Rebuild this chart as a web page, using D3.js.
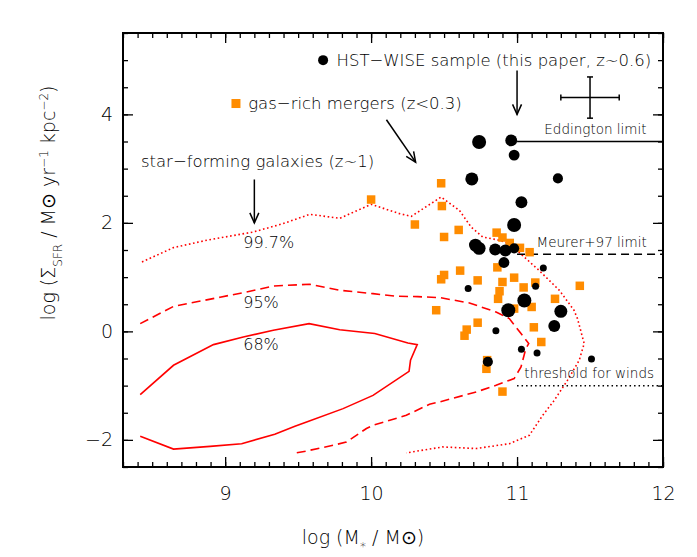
<!DOCTYPE html>
<html>
<head>
<meta charset="utf-8">
<script src="https://cdn.jsdelivr.net/npm/d3@7"></script>
<style>
  body { margin: 0; background: #fff; }
  text { font-family: "DejaVu Sans", sans-serif; font-weight: 200; fill: #000; }
</style>
</head>
<body>
<svg id="chart" width="697" height="557"></svg>
<script>
// ---- data ----
const xTicks = [9, 10, 11, 12];
const yTicks = [-2, 0, 2, 4];

// HST-WISE sample: log M*, log Sigma_SFR, marker size class (1 small .. 3 big)
const hstMass  = [10.74, 10.96, 10.98, 10.69, 11.28, 11.03, 10.98, 10.715, 10.74, 10.85, 10.92, 10.98, 10.91,
                  11.18, 10.665, 11.127, 11.05, 10.94, 11.30, 11.255, 10.855, 11.03, 11.137, 11.51, 10.80];
const hstSigma = [3.49, 3.52, 3.25, 2.81, 2.82, 2.38, 1.96, 1.59, 1.53, 1.51, 1.49, 1.53, 1.27,
                  1.17, 0.79, 0.83, 0.57, 0.39, 0.37, 0.10, 0.01, -0.33, -0.40, -0.51, -0.56];
const hstSize  = [3, 2.4, 2.1, 2.7, 1.9, 2.4, 3, 2.7, 2.7, 2.4, 2.4, 1.9, 2.1,
                  1, 1, 1, 3, 3, 2.7, 2.4, 1, 1, 1, 1, 1.9];

// gas-rich mergers (z<0.3)
const mergerMass  = [10.48, 10.485, 10.30, 10.50, 10.60, 10.86, 10.90, 10.95, 11.02, 11.086, 10.865, 10.61,
                     10.50, 10.48, 10.73, 10.90, 10.98, 11.045, 11.125, 11.43, 10.88, 10.87, 11.26, 11.10,
                     10.446, 10.98, 10.73, 11.115, 10.655, 10.64, 11.166, 10.795, 10.79, 10.90, 10.0];
const mergerSigma = [2.73, 2.31, 1.97, 1.74, 1.87, 1.82, 1.73, 1.63, 1.54, 1.46, 1.18, 1.12,
                     1.04, 0.96, 0.94, 0.91, 0.99, 0.81, 0.90, 0.84, 0.74, 0.60, 0.60, 0.45,
                     0.39, 0.42, 0.16, 0.075, 0.033, -0.08, -0.196, -0.53, -0.69, -1.11, 2.43];

// star-forming galaxy contours (z~1)
const c68Mass  = [8.418, 8.646, 8.92, 9.124, 9.33, 9.575, 9.785, 10.025, 10.252, 10.316, 10.27, 10.26, 10.013,
                  9.808, 9.558, 9.478, 9.34, 9.113, 8.897, 8.646, 8.418];
const c68Sigma = [-1.166, -0.625, -0.244, -0.104, 0.02, 0.143, 0.03, -0.04, -0.214, -0.244, -0.533, -0.736, -1.18,
                  -1.424, -1.67, -1.75, -1.897, -2.07, -2.12, -2.17, -1.934];

const c95Mass  = [8.418, 8.646, 8.965, 9.147, 9.33, 9.58, 9.785, 10.013, 10.173, 10.32, 10.469, 10.674, 10.856,
                  10.947, 11.027, 11.08, 11.06, 11.027, 10.98, 10.856, 10.72, 10.469, 10.40, 10.241, 10.013,
                  9.968, 9.83, 9.74, 9.558, 9.462];
const c95Sigma = [0.143, 0.46, 0.63, 0.726, 0.836, 0.868, 0.757, 0.696, 0.647, 0.64, 0.623, 0.523, 0.357,
                  0.235, -0.04, -0.225, -0.318, -0.657, -0.87, -0.994, -1.117, -1.3, -1.344, -1.547, -1.73,
                  -1.79, -2.04, -2.10, -2.205, -2.253];

const c997Mass  = [8.43, 8.646, 8.874, 9.193, 9.398, 9.58, 9.785, 10.0, 10.195, 10.275, 10.48, 10.605, 10.685,
                   10.765, 10.879, 10.97, 11.016, 11.15, 11.29, 11.39, 11.414, 11.46, 11.426, 11.346, 11.255,
                   11.175, 11.084, 10.947, 10.72, 10.49, 10.241];
const c997Sigma = [1.279, 1.544, 1.68, 1.832, 1.987, 2.158, 2.084, 2.342, 2.17, 2.12, 2.477, 2.23, 1.924,
                   1.74, 1.68, 1.587, 1.45, 1.126, 0.757, 0.39, 0.236, -0.225, -0.533, -0.90, -1.27,
                   -1.55, -1.916, -2.07, -2.16, -2.13, -2.24];

// limits: name, level, starting mass
const limitNames  = ["Eddington limit", "Meurer+97 limit", "threshold for winds"];
const limitLevels = [3.5, 1.42, -1.0];
const limitStart  = [11.0, 11.0, 11.0];

// typical error bar
const errCenter = [11.5, 4.31];
const errSize   = [0.2, 0.38];

// ---- layout ----
const svg = d3.select("#chart");
const margin = {top: 33, right: 34, bottom: 90, left: 123};
const width = +svg.attr("width"), height = +svg.attr("height");

const x = d3.scaleLinear().domain([8.3, 12]).range([margin.left, width - margin.right]);
const y = d3.scaleLinear().domain([-2.5, 5.5]).range([height - margin.bottom, margin.top]);
const r = d3.scaleLinear().domain([1, 3]).range([3.5, 7]);

const red = "#ff0000", orange = "#ff8c00";
const line = d3.line().x(d => x(d[0])).y(d => y(d[1]));

// contours
const contours = [
  {m: c68Mass, s: c68Sigma, dash: null},
  {m: c95Mass, s: c95Sigma, dash: "9,5"},
  {m: c997Mass, s: c997Sigma, dash: "1.6,2.6"}
];
svg.append("g").selectAll("path")
  .data(contours)
  .join("path")
    .attr("d", c => line(d3.zip(c.m, c.s)))
    .attr("fill", "none")
    .attr("stroke", red)
    .attr("stroke-width", 1.6)
    .attr("stroke-dasharray", c => c.dash);

// contour labels
const contourLabels = ["99.7%", "95%", "68%"];
const contourLabelY = [1.65, 0.54, -0.24];
svg.append("g").selectAll("text")
  .data(contourLabels)
  .join("text")
    .attr("x", x(9.124))
    .attr("y", (d, i) => y(contourLabelY[i]))
    .attr("dy", "0.36em")
    .style("font-size", "16px")
    .text(d => d);

// limit lines
const limitDash = [null, "8,5", "1.5,3"];
const limitLabelX = [11.187, 11.134, 11.05];
const limitLabelY = [3.72, 1.636, -0.767];
const limits = svg.append("g");
limits.selectAll("line")
  .data(limitLevels)
  .join("line")
    .attr("x1", (d, i) => x(limitStart[i]))
    .attr("x2", x(12))
    .attr("y1", d => y(d))
    .attr("y2", d => y(d))
    .attr("stroke", "#000")
    .attr("stroke-width", 1.5)
    .attr("stroke-dasharray", (d, i) => limitDash[i]);
limits.selectAll("text")
  .data(limitNames)
  .join("text")
    .attr("x", (d, i) => x(limitLabelX[i]))
    .attr("y", (d, i) => y(limitLabelY[i]))
    .attr("dy", "0.36em")
    .style("font-size", "13.5px")
    .text(d => d);

// mergers
const sq = 8.5;
svg.append("g").selectAll("rect")
  .data(d3.zip(mergerMass, mergerSigma))
  .join("rect")
    .attr("x", d => x(d[0]) - sq / 2)
    .attr("y", d => y(d[1]) - sq / 2)
    .attr("width", sq)
    .attr("height", sq)
    .attr("fill", orange);

// HST sample
svg.append("g").selectAll("circle")
  .data(d3.zip(hstMass, hstSigma, hstSize))
  .join("circle")
    .attr("cx", d => x(d[0]))
    .attr("cy", d => y(d[1]))
    .attr("r", d => r(d[2]))
    .attr("fill", "#000");

// error bar
const eb = svg.append("g").attr("stroke", "#000").attr("stroke-width", 1.5);
const [ex, ey] = errCenter, [dx, dy] = errSize;
eb.append("line").attr("x1", x(ex - dx)).attr("x2", x(ex + dx)).attr("y1", y(ey)).attr("y2", y(ey));
eb.append("line").attr("x1", x(ex)).attr("x2", x(ex)).attr("y1", y(ey - dy)).attr("y2", y(ey + dy));
eb.append("line").attr("x1", x(ex - dx)).attr("x2", x(ex - dx)).attr("y1", y(ey) - 3).attr("y2", y(ey) + 3);
eb.append("line").attr("x1", x(ex + dx)).attr("x2", x(ex + dx)).attr("y1", y(ey) - 3).attr("y2", y(ey) + 3);
eb.append("line").attr("x1", x(ex) - 3).attr("x2", x(ex) + 3).attr("y1", y(ey + dy)).attr("y2", y(ey + dy));
eb.append("line").attr("x1", x(ex) - 3).attr("x2", x(ex) + 3).attr("y1", y(ey - dy)).attr("y2", y(ey - dy));

// arrows
function arrow(x1, y1, x2, y2) {
  const px1 = x(x1), py1 = y(y1), px2 = x(x2), py2 = y(y2);
  const a = Math.atan2(py2 - py1, px2 - px1), L = 11, w = 0.42;
  const g = svg.append("g").attr("stroke", "#000").attr("stroke-width", 1.5).attr("fill", "none");
  g.append("line").attr("x1", px1).attr("y1", py1).attr("x2", px2).attr("y2", py2);
  g.append("path").attr("d",
    `M${px2 - L * Math.cos(a - w)},${py2 - L * Math.sin(a - w)}L${px2},${py2}L${px2 - L * Math.cos(a + w)},${py2 - L * Math.sin(a + w)}`);
}
arrow(11.0, 4.81, 11.0, 4.0);
arrow(10.105, 3.90, 10.305, 3.12);
arrow(9.2, 2.80, 9.2, 2.0);

// legend / annotation text
svg.append("circle").attr("cx", x(9.671)).attr("cy", y(5.0)).attr("r", 5).attr("fill", "#000");
svg.append("text").attr("x", x(9.763)).attr("y", y(5.0)).attr("dy", "0.36em")
  .style("font-size", "16.5px").text("HST\u2212WISE sample (this paper, z~0.6)");
svg.append("rect").attr("x", x(9.074) - 4.5).attr("y", y(4.2) - 4.5).attr("width", 9).attr("height", 9).attr("fill", orange);
svg.append("text").attr("x", x(9.158)).attr("y", y(4.2)).attr("dy", "0.36em")
  .style("font-size", "16.5px").text("gas\u2212rich mergers (z<0.3)");
svg.append("text").attr("x", x(8.423)).attr("y", y(3.14)).attr("dy", "0.36em")
  .style("font-size", "16.5px").text("star\u2212forming galaxies (z~1)");

// ---- axes ----
const minorX = d3.range(83, 121).map(d => d / 10);
const minorY = d3.range(-5, 12).map(d => d / 2);
const axes = svg.append("g");

const xAxis = g => g
  .attr("transform", `translate(0,${height - margin.bottom})`)
  .call(d3.axisBottom(x).tickValues(xTicks).tickSize(-10).tickPadding(20).tickFormat(d3.format("d")))
  .call(g => g.selectAll(".tick text").style("font-size", "19px"));
const yAxis = g => g
  .attr("transform", `translate(${margin.left},0)`)
  .call(d3.axisLeft(y).tickValues(yTicks).tickSize(-10).tickPadding(10).tickFormat(d3.format("d")))
  .call(g => g.selectAll(".tick text").style("font-size", "19px"));

axes.append("g").call(xAxis);
axes.append("g").call(yAxis);
axes.append("g").attr("transform", `translate(0,${height - margin.bottom})`)
  .call(d3.axisBottom(x).tickValues(minorX).tickSize(-5).tickFormat(""));
axes.append("g").attr("transform", `translate(0,${margin.top})`)
  .call(d3.axisTop(x).tickValues(minorX).tickSize(-5).tickFormat(""));
axes.append("g").attr("transform", `translate(0,${margin.top})`)
  .call(d3.axisTop(x).tickValues(xTicks).tickSize(-10).tickFormat(""));
axes.append("g").attr("transform", `translate(${margin.left},0)`)
  .call(d3.axisLeft(y).tickValues(minorY).tickSize(-5).tickFormat(""));
axes.append("g").attr("transform", `translate(${width - margin.right},0)`)
  .call(d3.axisRight(y).tickValues(minorY).tickSize(-5).tickFormat(""));
axes.append("g").attr("transform", `translate(${width - margin.right},0)`)
  .call(d3.axisRight(y).tickValues(yTicks).tickSize(-10).tickFormat(""));
axes.selectAll(".domain").remove();
axes.selectAll("line").attr("stroke", "#000").attr("stroke-width", 1.3);
axes.selectAll(".tick text").attr("fill", "#000")
  .style("font-family", "DejaVu Sans, sans-serif").style("font-weight", 200);

svg.append("rect")
  .attr("x", margin.left).attr("y", margin.top)
  .attr("width", width - margin.left - margin.right)
  .attr("height", height - margin.top - margin.bottom)
  .attr("fill", "none").attr("stroke", "#000").attr("stroke-width", 2);

// axis titles
const xt = svg.append("text").attr("x", 363).attr("y", 544).attr("text-anchor", "middle").style("font-size", "19px");
xt.append("tspan").text("log (M");
xt.append("tspan").attr("baseline-shift", "sub").style("font-size", "12px").text("*");
xt.append("tspan").text(" / M\u2299)");

const yt = svg.append("text").attr("transform", "translate(55,203) rotate(-90)").attr("text-anchor", "middle").style("font-size", "19px");
yt.append("tspan").text("log (\u03a3");
yt.append("tspan").attr("baseline-shift", "sub").style("font-size", "12px").text("SFR");
yt.append("tspan").text(" / M\u2299 yr");
yt.append("tspan").attr("baseline-shift", "super").style("font-size", "12px").text("\u22121");
yt.append("tspan").text(" kpc");
yt.append("tspan").attr("baseline-shift", "super").style("font-size", "12px").text("\u22122");
yt.append("tspan").text(")");
</script>
</body>
</html>
